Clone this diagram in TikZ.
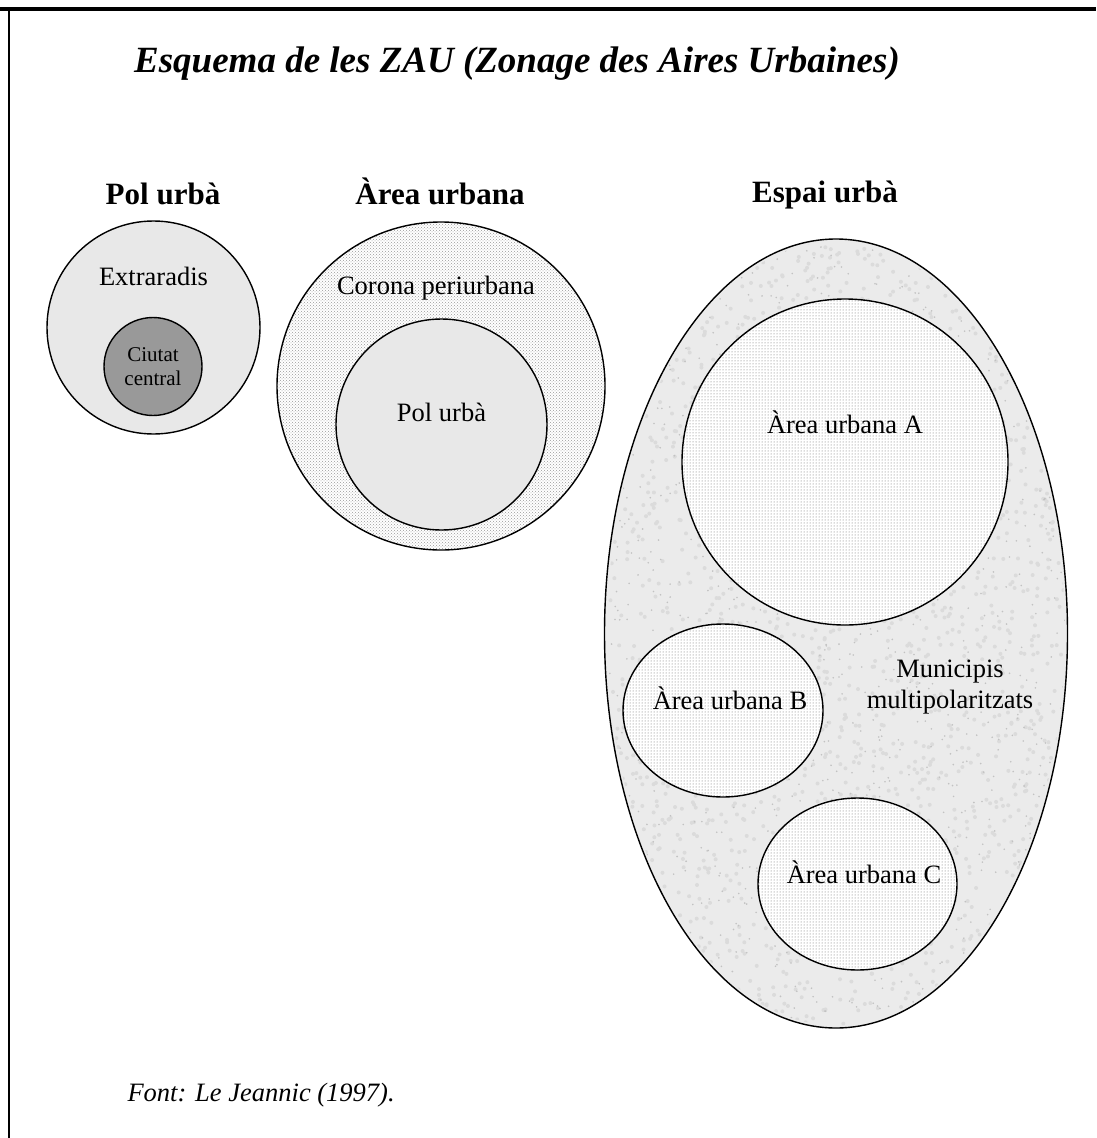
\documentclass[tikz,border=0pt]{standalone}
\usepackage{fontspec}
\setmainfont{Liberation Serif}
\usetikzlibrary{positioning,shapes.geometric,patterns}

\begin{document}
\begin{tikzpicture}[x=1pt, y=-1pt,
        zone/.style={draw, line width=1.4pt, inner sep=0pt},
        stipple/.style={preaction={fill=white}, pattern=dots, pattern color=black!60},
        heading/.style={font=\fontsize{31}{36}\selectfont\bfseries, anchor=base},
        lbl/.style={font=\fontsize{26.5}{31}\selectfont, anchor=base, align=center}]
            \useasboundingbox (0,0) rectangle (1096,1138);
            \pgfmathsetseed{7}
            % frame
            \draw[line width=4pt] (0,9) -- (1096,9);
            \draw[line width=1.5pt] (9,9) -- (9,1138);
            \node[anchor=base, font=\fontsize{37}{42}\selectfont\bfseries\itshape] (title) at (517,72)
                {Esquema de les ZAU (Zonage des Aires Urbaines)};
            % pol urba
            \node[zone, circle, fill=black!9, minimum size=213pt] (extraradis) at (153.5,327.5) {};
            \node[zone, circle, fill=black!40, minimum size=98pt] (ciutat) at (153,366.5) {};
            \node[heading] (hpol) at (163,204) {Pol urbà};
            \node[lbl] (lextra) at (153.5,285) {Extraradis};
            \node[lbl, anchor=center, font=\fontsize{21}{24}\selectfont] (lciutat) at (153,367) {Ciutat\\central};
            % area urbana
            \node[zone, circle, preaction={fill=white}, pattern=crosshatch dots, pattern color=black!40,
                  minimum size=328pt] (corona) at (441,386) {};
            \node[zone, circle, fill=black!9, minimum size=211pt] (polurba) at (441.5,424.5) {};
            \node[heading] (harea) at (440,204) {Àrea urbana};
            \node[lbl] (lcorona) at (436,294) {Corona periurbana};
            \node[lbl] (lpol) at (441.5,421) {Pol urbà};
            % espai urba, with a speckled fill
            \node[zone, ellipse, fill=black!8, minimum width=463pt, minimum height=789pt] (espai) at (836,633.5) {};
            \begin{scope}
                \clip (espai.center) ellipse [x radius=229, y radius=392];
                \foreach \i in {1,...,2000}
                    \fill[black!14] ({836+229*rand},{633.5+392*rand}) circle (2pt);
                \foreach \i in {1,...,1200}
                    \fill[black!24] ({836+229*rand},{633.5+392*rand}) circle (0.9pt);
            \end{scope}
            \node[zone, circle, stipple, minimum size=326pt] (areaA) at (845,462) {};
            \node[zone, ellipse, stipple, minimum width=200pt, minimum height=173pt] (areaB) at (723,710.5) {};
            \node[zone, ellipse, stipple, minimum width=199pt, minimum height=172pt] (areaC) at (857.5,884) {};
            \node[heading] (hespai) at (825,202) {Espai urbà};
            \node[lbl] (lareaA) at (845,433) {Àrea urbana A};
            \node[lbl] (lareaB) at (730,709) {Àrea urbana B};
            \node[lbl] (lareaC) at (864,883) {Àrea urbana C};
            \node[lbl, anchor=center] (lmulti) at (950,687) {Municipis\\multipolaritzats};
            % source
            \node[anchor=base west, font=\fontsize{26.5}{31}\selectfont\itshape] (source) at (124,1101) {Font: Le Jeannic (1997).};
        \end{tikzpicture}
\end{document}
